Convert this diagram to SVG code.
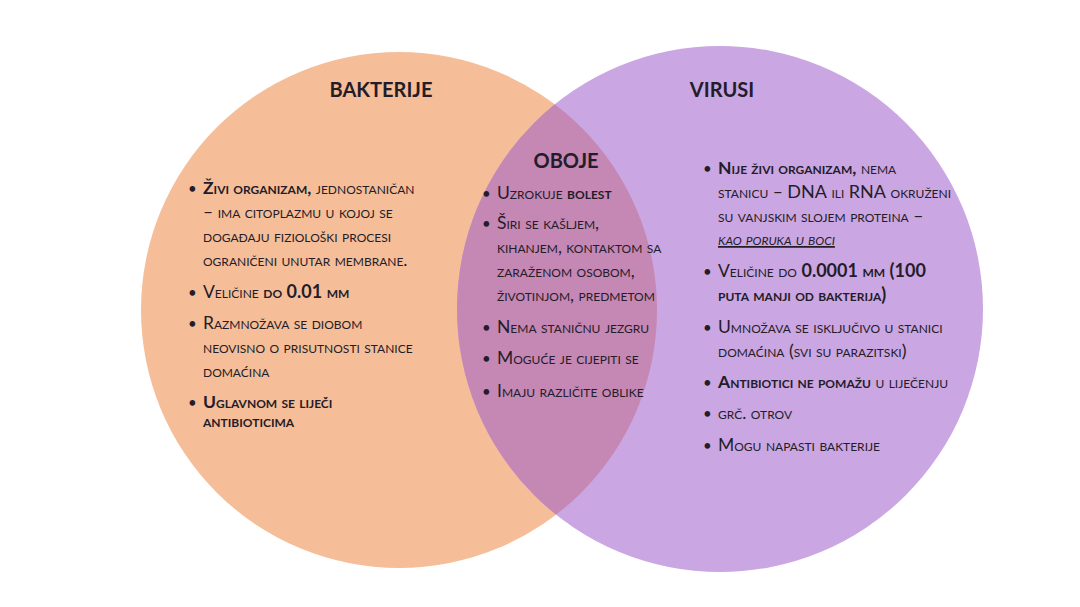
<svg xmlns="http://www.w3.org/2000/svg" width="1080" height="607" viewBox="0 0 1080 607">
<style>
  text { font-family: Lato, "Open Sans", "DejaVu Sans", sans-serif; fill: #241c28; }
  .t { font-size: 17.5px; font-variant: small-caps; }
  .h { font-size: 20px; font-weight: bold; text-anchor: middle; }
  .b { font-weight: bold; }
  .big { font-size: 18px; font-variant: normal; }
  .u { font-style: italic; text-decoration: underline; }
  .dot { font-size: 15px; }
</style>
<defs>
  <clipPath id="clipL"><circle cx="399" cy="310" r="258"/></clipPath>
</defs>
<rect width="1080" height="607" fill="#ffffff"/>
<g id="bakterije">
  <circle cx="399" cy="310" r="258" fill="#F5BE98"/>
</g>
<g id="virusi">
  <circle cx="720" cy="309" r="263" fill="#CAA6E2"/>
</g>
<g id="oboje">
  <circle cx="720" cy="309" r="263" fill="#C587B4" clip-path="url(#clipL)"/>
</g>
<g id="connectors"/>
<g id="bakterije-text">
  <text class="h" x="381" y="97">BAKTERIJE</text>
  <text class="dot" x="188" y="194">•</text>
  <text class="t" x="203" y="194"><tspan class="b">Živi organizam,</tspan> jednostaničan</text>
  <text class="t" x="203" y="218">– ima citoplazmu u kojoj se</text>
  <text class="t" x="203" y="242">događaju fiziološki procesi</text>
  <text class="t" x="203" y="266">ograničeni unutar membrane.</text>
  <text class="dot" x="188" y="298">•</text>
  <text class="t" x="203" y="298">Veličine <tspan class="b">do</tspan> <tspan class="b big">0.01</tspan> <tspan class="b">mm</tspan></text>
  <text class="dot" x="188" y="329">•</text>
  <text class="t" x="203" y="329">Razmnožava se diobom</text>
  <text class="t" x="203" y="353">neovisno o prisutnosti stanice</text>
  <text class="t" x="203" y="377">domaćina</text>
  <text class="dot" x="188" y="408">•</text>
  <text class="t b" x="203" y="408">Uglavnom se liječi</text>
  <text class="t b" x="203" y="427">antibioticima</text>
</g>
<g id="oboje-text">
  <text class="h" x="566" y="168">OBOJE</text>
  <text class="dot" x="482" y="199">•</text>
  <text class="t" x="497" y="199">Uzrokuje <tspan class="b">bolest</tspan></text>
  <text class="dot" x="482" y="229">•</text>
  <text class="t" x="497" y="229">Širi se kašljem,</text>
  <text class="t" x="497" y="253">kihanjem, kontaktom sa</text>
  <text class="t" x="497" y="277">zaraženom osobom,</text>
  <text class="t" x="497" y="301">životinjom, predmetom</text>
  <text class="dot" x="482" y="333">•</text>
  <text class="t" x="497" y="333">Nema staničnu jezgru</text>
  <text class="dot" x="482" y="364">•</text>
  <text class="t" x="497" y="364">Moguće je cijepiti se</text>
  <text class="dot" x="482" y="397">•</text>
  <text class="t" x="497" y="397">Imaju različite oblike</text>
</g>
<g id="virusi-text">
  <text class="h" x="722" y="97">VIRUSI</text>
  <text class="dot" x="703" y="174">•</text>
  <text class="t" x="718" y="174"><tspan class="b">Nije živi organizam,</tspan> nema</text>
  <text class="t" x="718" y="198">stanicu – <tspan class="big">DNA</tspan> ili <tspan class="big">RNA</tspan> okruženi</text>
  <text class="t" x="718" y="222">su vanjskim slojem proteina –</text>
  <text class="t u" x="718" y="245">kao poruka u boci</text>
  <text class="dot" x="703" y="277">•</text>
  <text class="t" x="718" y="277">Veličine do <tspan class="b big">0.0001</tspan> <tspan class="b">mm</tspan> <tspan class="b big">(100</tspan></text>
  <text class="t b" x="718" y="301">puta manji od bakterija<tspan class="big">)</tspan></text>
  <text class="dot" x="703" y="333">•</text>
  <text class="t" x="718" y="333">Umnožava se isključivo u stanici</text>
  <text class="t" x="718" y="357">domaćina <tspan class="big">(</tspan>svi su parazitski<tspan class="big">)</tspan></text>
  <text class="dot" x="703" y="388">•</text>
  <text class="t" x="718" y="388"><tspan class="b">Antibiotici ne pomažu</tspan> u liječenju</text>
  <text class="dot" x="703" y="419">•</text>
  <text class="t" x="718" y="419">grč. otrov</text>
  <text class="dot" x="703" y="451">•</text>
  <text class="t" x="718" y="451">Mogu napasti bakterije</text>
</g>
</svg>
